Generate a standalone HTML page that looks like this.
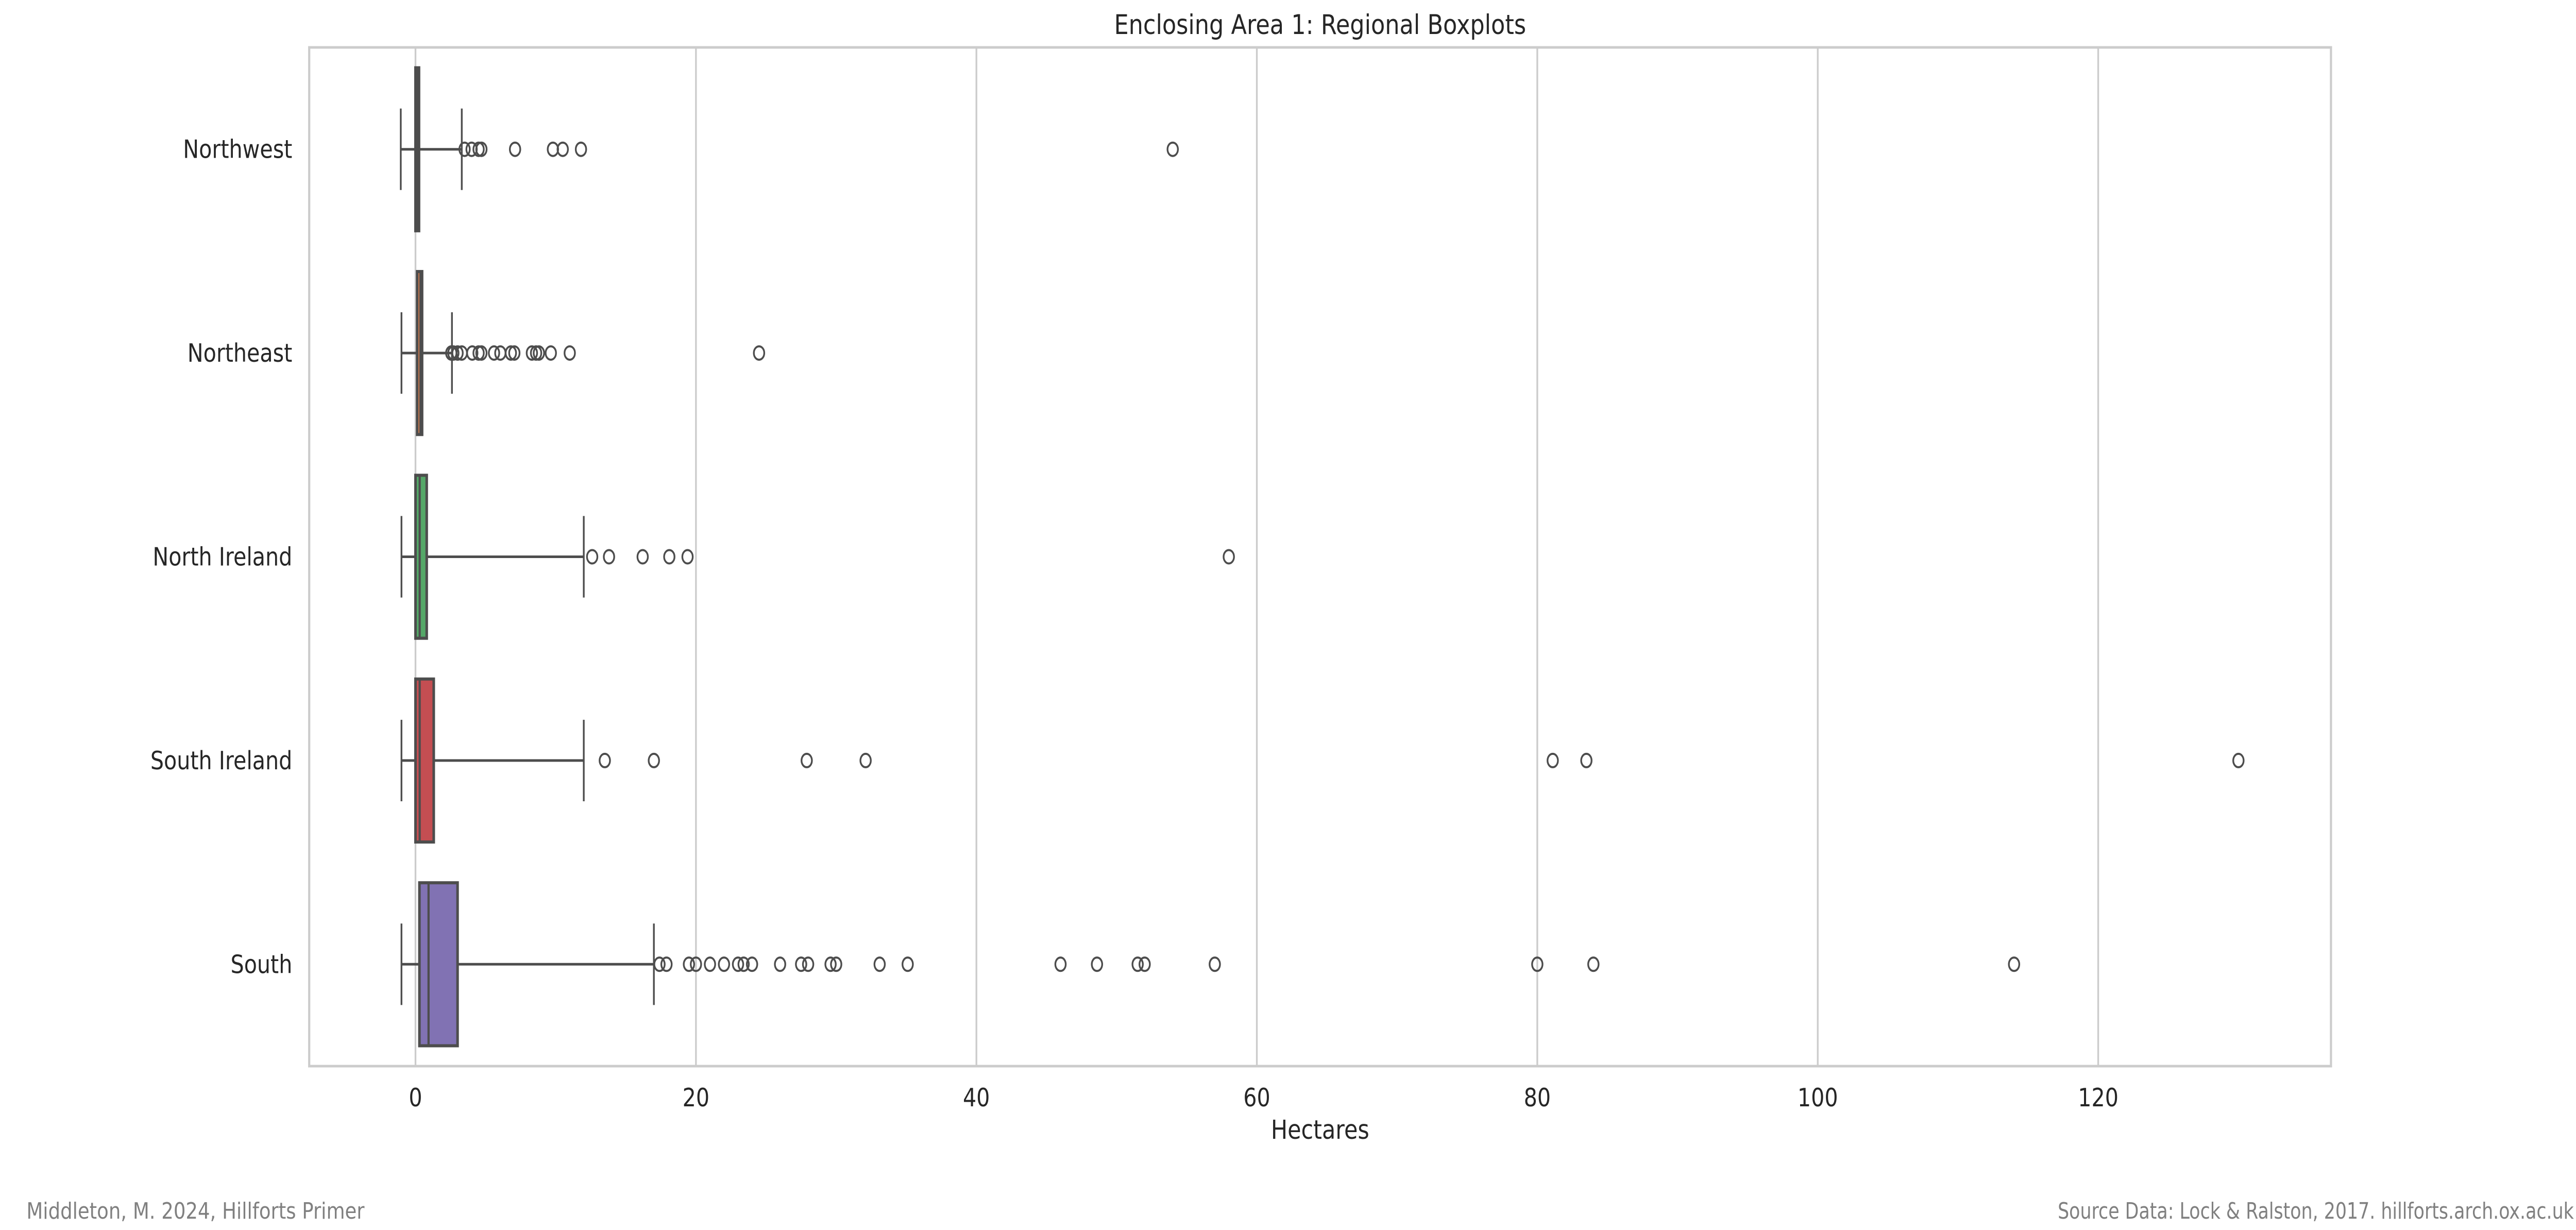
<!DOCTYPE html>
<html><head><meta charset="utf-8"><style>
html,body{margin:0;padding:0;background:#fff;width:100vw;height:100vh;overflow:hidden;}
svg{display:block;width:100vw;height:100vh;font-family:"DejaVu Sans","Liberation Sans",sans-serif;}
</style></head><body>
<svg id="chart" viewBox="0 0 5940 2387" preserveAspectRatio="none" xmlns="http://www.w3.org/2000/svg">
<text x="3044" y="66" font-size="53" text-anchor="middle" fill="#262626">Enclosing Area 1: Regional Boxplots</text>
<g id="grid"></g>
<g id="marks"></g>
<rect x="713" y="92" width="4662" height="1977" fill="none" stroke="#cccccc" stroke-width="5"/>
<g id="labels"></g>
<text x="3044" y="2210" font-size="51" text-anchor="middle" fill="#262626">Hectares</text>
<text x="61" y="2365" font-size="44" fill="#808080">Middleton, M. 2024, Hillforts Primer</text>
<text x="4745" y="2365" font-size="44" fill="#808080" textLength="1190" lengthAdjust="spacingAndGlyphs">Source Data: Lock &amp; Ralston, 2017. hillforts.arch.ox.ac.uk</text>
</svg>
<script>
const categories = ["Northwest","Northeast","North Ireland","South Ireland","South"];
const colors = ["#4c72b0","#dd8452","#55a868","#c44e52","#8172b3"];
const whiskLow = [-1.05,-1.0,-1.0,-1.0,-1.0];
const q1 = [0.0,0.12,0.0,0.0,0.28];
const medians = [0.12,0.35,0.3,0.3,0.93];
const q3 = [0.25,0.47,0.8,1.3,3.0];
const whiskHigh = [3.3,2.6,12.0,12.0,17.0];
const outliersNW = [3.5,4.0,4.5,4.7,7.1,9.8,10.5,11.8,54.0];
const outliersNE = [2.55,2.7,3.0,3.3,4.05,4.5,4.7,5.6,6.05,6.8,7.05,8.3,8.6,8.8,9.65,11.0,24.5];
const outliersNI = [12.6,13.8,16.2,18.1,19.4,58.0];
const outliersSI = [13.5,17.0,27.9,32.1,81.1,83.5,130.0];
const outliersS = [17.4,17.9,19.5,20.0,21.0,22.0,23.0,23.4,24.0,26.0,27.5,28.0,29.6,30.0,33.1,35.1,46.0,48.6,51.5,52.0,57.0,80.0,84.0,114.0];
const xTicks = [0,20,40,60,80,100,120];

const outliers = [outliersNW,outliersNE,outliersNI,outliersSI,outliersS];
const PL=713, PR=5375, PT=92, PB=2069;
const XMIN=-7.58, XMAX=136.6;
const xS = v => PL + (v - XMIN) / (XMAX - XMIN) * (PR - PL);
const band = (PB - PT) / categories.length;
const yS = i => PT + (i + 0.5) * band;
const NS = "http://www.w3.org/2000/svg";
function mk(tag, attrs, parent){const e=document.createElementNS(NS,tag);for(const k in attrs)e.setAttribute(k,attrs[k]);parent.appendChild(e);return e;}
const grid=document.getElementById('grid'), marks=document.getElementById('marks'), labels=document.getElementById('labels');
const edge="#4d4d4d";
xTicks.forEach(t=>{
  const l=mk('line',{x1:xS(t),x2:xS(t),y1:PT,y2:PB,stroke:'#cccccc','stroke-width':4},grid);
  
  
  const tx=mk('text',{x:xS(t),y:PB+78,'font-size':49,'text-anchor':'middle',fill:'#262626'},labels);
  tx.textContent=t;
  
  
});
categories.forEach((c,i)=>{
  const cy=yS(i), bh=band*0.8, ch=band*0.4;
  const g=mk('g',{},marks);
  
  
  mk('line',{x1:xS(whiskLow[i]),x2:xS(q1[i]),y1:cy,y2:cy,stroke:edge,'stroke-width':5},g);
  mk('line',{x1:xS(q3[i]),x2:xS(whiskHigh[i]),y1:cy,y2:cy,stroke:edge,'stroke-width':5},g);
  mk('line',{x1:xS(whiskLow[i]),x2:xS(whiskLow[i]),y1:cy-ch/2,y2:cy+ch/2,stroke:edge,'stroke-width':4},g);
  mk('line',{x1:xS(whiskHigh[i]),x2:xS(whiskHigh[i]),y1:cy-ch/2,y2:cy+ch/2,stroke:edge,'stroke-width':4},g);
  mk('rect',{x:xS(q1[i]),y:cy-bh/2,width:Math.max(xS(q3[i])-xS(q1[i]),1),height:bh,fill:colors[i],stroke:edge,'stroke-width':6},g);
  mk('line',{x1:xS(medians[i]),x2:xS(medians[i]),y1:cy-bh/2,y2:cy+bh/2,stroke:edge,'stroke-width':5},g);
  outliers[i].forEach(v=>{
    const o=mk('ellipse',{cx:xS(v),cy:cy,rx:12,ry:13,fill:'none',stroke:edge,'stroke-width':4},g);
    
    
  });
  const t=mk('text',{x:674,y:cy+17,'font-size':49,'text-anchor':'end',fill:'#262626'},labels);
  t.textContent=c;
  
  
});
</script>
</body></html>
